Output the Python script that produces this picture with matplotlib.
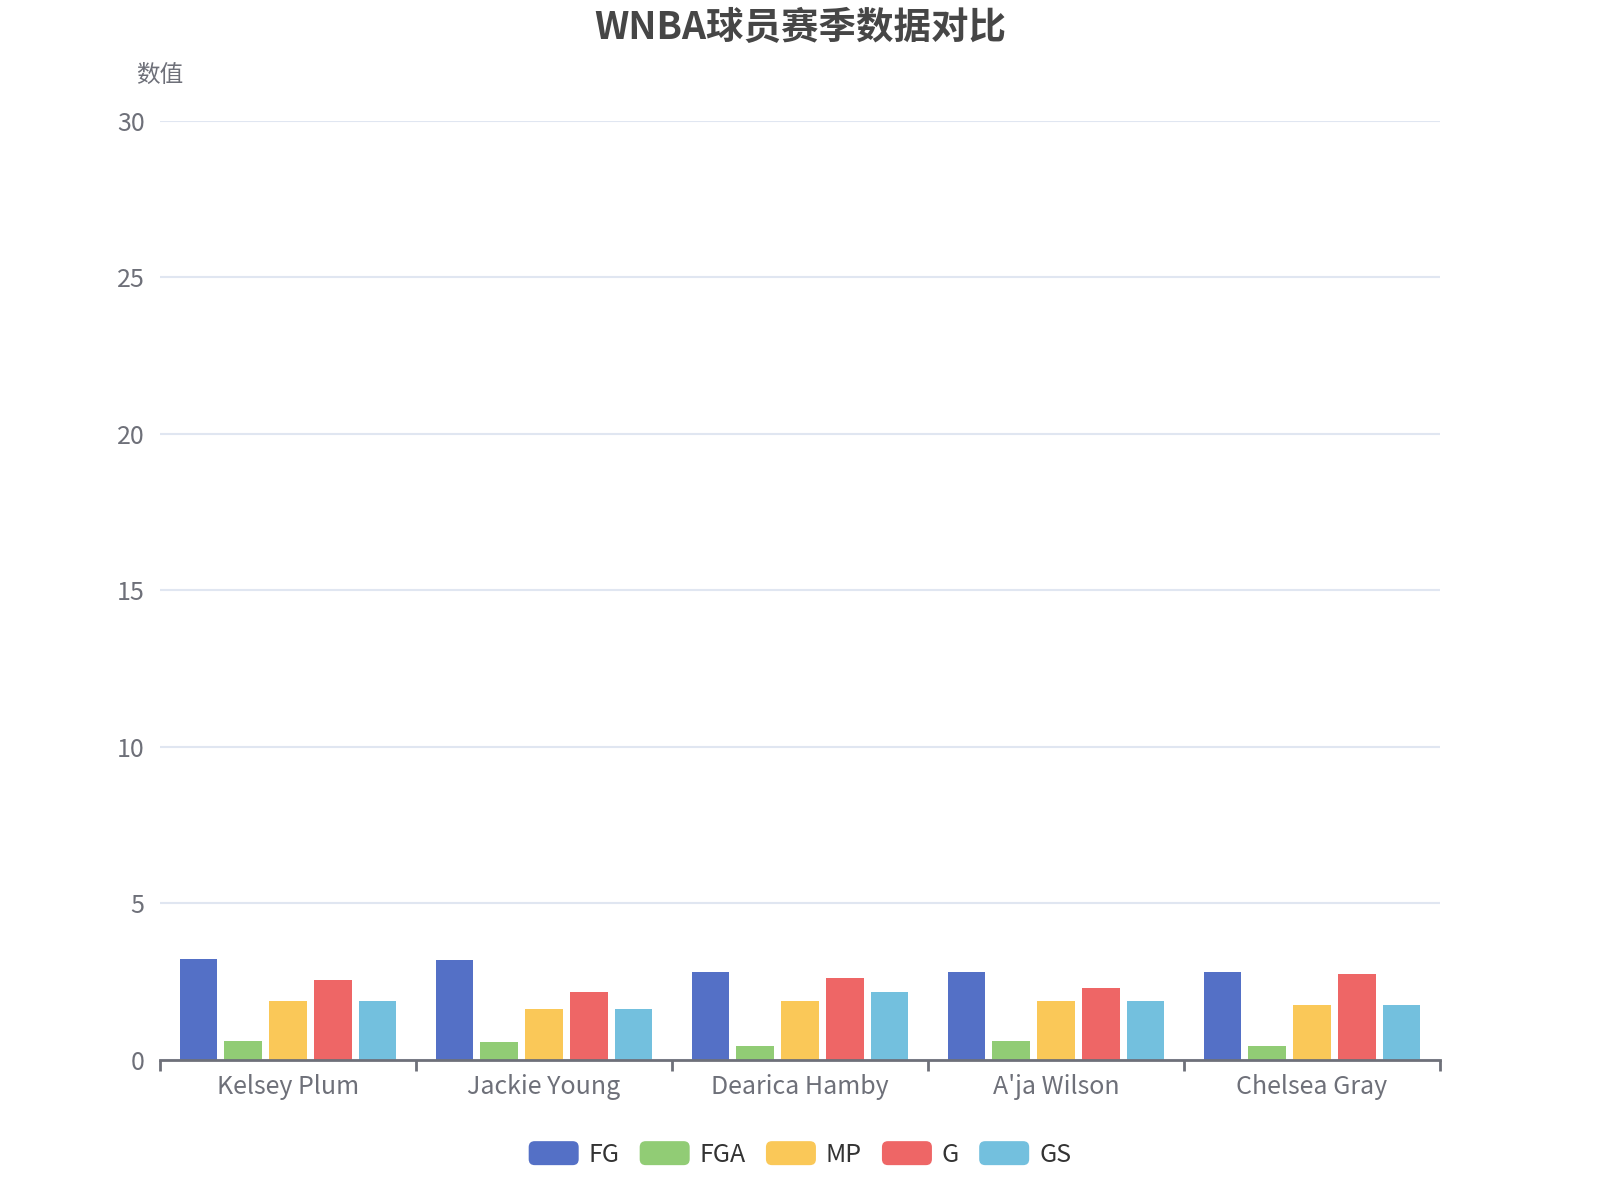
import numpy as np
import matplotlib
matplotlib.use('Agg')
import matplotlib.pyplot as plt
from matplotlib.patches import FancyBboxPatch, Patch
from matplotlib.legend_handler import HandlerPatch

plt.rcParams['font.family'] = ['Noto Sans CJK SC', 'DejaVu Sans']

# data
players = ['Kelsey Plum', 'Jackie Young', 'Dearica Hamby', "A'ja Wilson", 'Chelsea Gray']
series_names = ['FG', 'FGA', 'MP', 'G', 'GS']
fg = [3.24, 3.20, 2.82, 2.82, 2.80]
fga = [0.62, 0.56, 0.43, 0.62, 0.46]
mp = [1.87, 1.64, 1.87, 1.87, 1.75]
g = [2.54, 2.18, 2.63, 2.31, 2.75]
gs = [1.87, 1.64, 2.18, 1.87, 1.75]
colors = ['#5470c6', '#91cc75', '#fac858', '#ee6666', '#73c0de']


class RoundHandler(HandlerPatch):
    def create_artists(self, legend, orig_handle, xdescent, ydescent,
                       width, height, fontsize, trans):
        p = FancyBboxPatch((-xdescent, -ydescent), width, height,
                           boxstyle='round,pad=0,rounding_size=%f' % (height * 0.25),
                           facecolor=orig_handle.get_facecolor(),
                           edgecolor='none', transform=trans)
        return [p]


fig = plt.figure(figsize=(16, 12), dpi=100)
ax = fig.add_axes([0.1, 0.1167, 0.8, 0.7826])

x = np.arange(len(players))
width = 0.147
step = 0.175
all_vals = [fg, fga, mp, g, gs]
for i, (name, vals) in enumerate(zip(series_names, all_vals)):
    ax.bar(x + (i - 2) * step, vals, width, color=colors[i], label=name, zorder=3)

ax.set_xlim(-0.5, len(players) - 0.5)
ax.set_ylim(0, 30)
ax.set_yticks([0, 5, 10, 15, 20, 25, 30])
ax.yaxis.grid(True, color='#E0E6F1', linewidth=1.5, zorder=0)
ax.set_axisbelow(True)

for s in ['top', 'right', 'left']:
    ax.spines[s].set_visible(False)
ax.spines['bottom'].set_color('#6E7079')
ax.spines['bottom'].set_linewidth(2)
ax.spines['bottom'].set_zorder(4)

ax.set_xticks(x)
ax.set_xticklabels(players)
ax.set_xticks(np.arange(-0.5, len(players), 1), minor=True)
ax.tick_params(axis='x', which='major', length=0, pad=10, labelsize=18, labelcolor='#6E7079')
ax.tick_params(axis='x', which='minor', length=8, width=2, color='#6E7079')
ax.tick_params(axis='y', length=0, pad=11, labelsize=18, labelcolor='#6E7079')

fig.text(0.1, 0.937, '数值', ha='center', va='center', fontsize=17, color='#6E7079')
fig.suptitle('WNBA球员赛季数据对比', x=0.5, y=0.977, va='center',
             fontsize=27, fontweight='bold', color='#464646')

handles = [Patch(facecolor=c) for c in colors]
fig.legend(handles, series_names, loc='center', bbox_to_anchor=(0.5, 0.038),
           ncol=5, frameon=False, fontsize=18, labelcolor='#333333',
           handlelength=2.0, handleheight=1.1, handletextpad=0.4,
           columnspacing=0.8, handler_map={Patch: RoundHandler()})

fig.savefig('out.png', dpi=100, facecolor='white')
